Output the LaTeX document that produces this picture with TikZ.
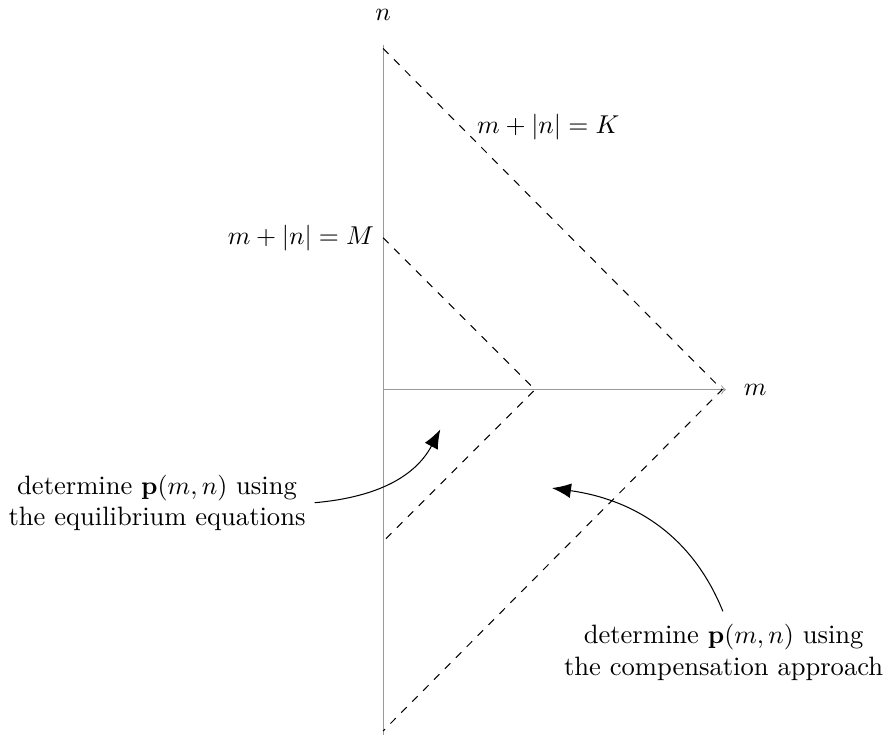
\documentclass[tikz,border=0pt]{standalone}
\usepackage{amsmath}
\usepackage{amssymb}
\usetikzlibrary{positioning, arrows.meta, calc}

\begin{document}
\begin{tikzpicture}[
	>=Latex,
	% Define styles for the axes and lines
	axis_line/.style={
		draw=gray!80,
		thin
	},
	bound_line/.style={
		dashed,
		thin
	},
	note_text/.style={
		align=center,
		font=\fontsize{10.3}{12.2}\selectfont
	},
	note_arrow/.style={
		-{Latex[length=2.6mm, width=2mm]},
		thin
	}
	]
	\useasboundingbox (-5.22,-4.73) rectangle (6.88,5.31);
	
	% --- 1. AXES ---
	\coordinate (origin) at (0,0);
	\coordinate (n_top) at (0,4.70);
	\coordinate (n_bot) at (0,-4.70);
	\coordinate (m_end) at (4.67,0);
	\draw[axis_line] (n_bot) -- (n_top);
	\draw[axis_line, ->, >=to] (origin) -- (m_end);
	\node (m_lab) at (5.07,0) {$m$};
	\node (n_lab) at (0,5.11) {$n$};
	
	% --- 2. BOUNDARY LINES ---
	\coordinate (K_top) at (0,4.65);
	\coordinate (K_mid) at (4.62,0);
	\coordinate (K_bot) at (0,-4.65);
	\draw[bound_line] (K_top) -- (K_mid) -- (K_bot);
	\node[note_text] (K_lab) at (2.25,3.58) {$m+|n|=K$};
	
	\coordinate (M_top) at (0,2.07);
	\coordinate (M_mid) at (2.07,0);
	\coordinate (M_bot) at (0,-2.07);
	\draw[bound_line] (M_top) -- (M_mid) -- (M_bot);
	\node[note_text, anchor=east] (M_lab) at (M_top) {$m+|n|=M$};
	
	% --- 3. ANNOTATIONS ---
	\node[note_text] (inner_note) at (-3.08,-1.54) {determine $\mathbf{p}(m,n)$ using\\ the equilibrium equations};
	\coordinate (inner_tip) at (0.78,-0.54);
	\draw[note_arrow] (inner_note.east) to[out=5, in=242] (inner_tip);
	
	\node[note_text] (outer_note) at (4.64,-3.58) {determine $\mathbf{p}(m,n)$ using\\ the compensation approach};
	\coordinate (outer_start) at (4.63,-3.02);
	\coordinate (outer_tip) at (2.30,-1.34);
	\draw[note_arrow] (outer_start) to[out=112, in=-8] (outer_tip);
	
\end{tikzpicture}
\end{document}
